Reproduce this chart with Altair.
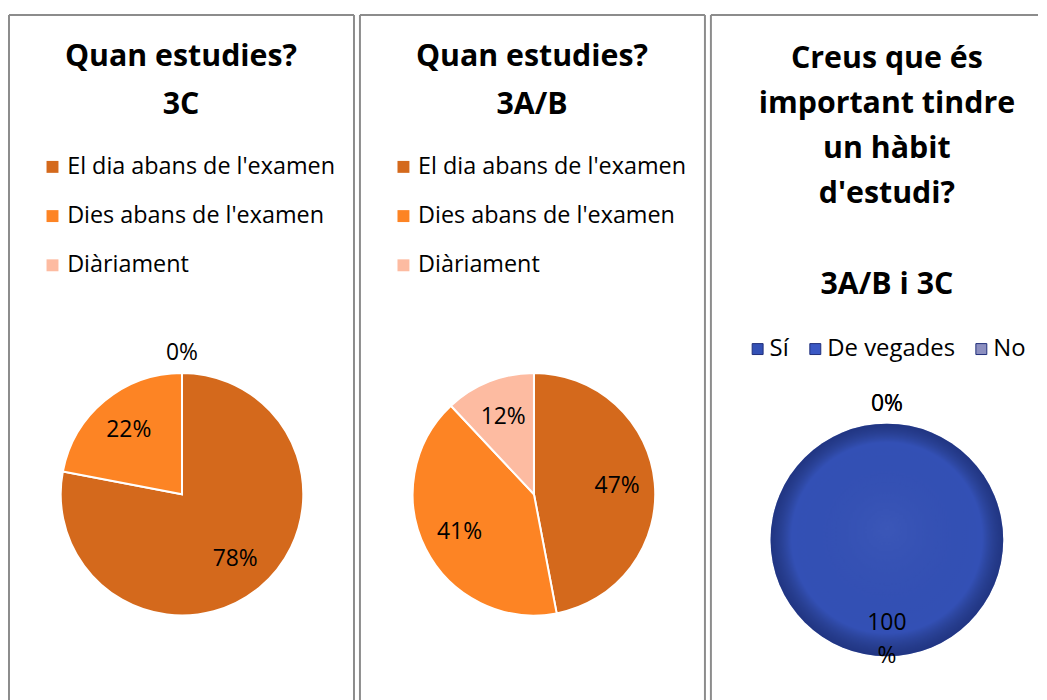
import altair as alt
import pandas as pd

# ---- data ----
cats_study = ["El dia abans de l'examen", "Dies abans de l'examen", "Diàriament"]
vals_3c = [78, 22, 0]
vals_3ab = [47, 41, 12]
colors_study = ["#D4691C", "#FD8424", "#FDBBA1"]

cats_habit = ["Sí", "De vegades", "No"]
vals_habit = [100, 0, 0]
colors_habit = ["#3350B5", "#3A58C4", "#8C8FC0"]

title_3c = ["Quan estudies?", "3C"]
title_3ab = ["Quan estudies?", "3A/B"]
title_habit = ["Creus que és", "important tindre", "un hàbit", "d'estudi?", "", "3A/B i 3C"]

H = 700
FONT = "Open Sans"
BORDER = "#8C8C8C"


def borders(w, right=True):
    one = pd.DataFrame({"k": [0]})
    left = alt.Chart(one).mark_rule(color=BORDER, strokeWidth=2).encode(
        x=alt.value(0), y=alt.value(0), y2=alt.value(H))
    top = alt.Chart(one).mark_rule(color=BORDER, strokeWidth=2).encode(
        x=alt.value(0), x2=alt.value(w), y=alt.value(0))
    out = [left, top]
    if right:
        out.append(alt.Chart(one).mark_rule(color=BORDER, strokeWidth=2).encode(
            x=alt.value(w), y=alt.value(0), y2=alt.value(H)))
    return out


def panel(w, cats, vals, colors, title_lines, title_x, title_y0, title_step,
          cx, cy, r, label_r, legend, arc_stroke, arc_stroke_w, gradient=False, right=True):
    df = pd.DataFrame({"cat": cats, "value": vals, "order": list(range(len(cats)))})
    base = alt.Chart(df)
    arcs = base.mark_arc(radius=r, stroke=arc_stroke, strokeWidth=arc_stroke_w).encode(
        theta=alt.Theta("value:Q", stack=True),
        color=alt.Color("cat:N", scale=alt.Scale(domain=cats, range=colors), legend=legend),
        order=alt.Order("order:Q"),
        x=alt.value(cx),
        y=alt.value(cy),
    )
    layers = borders(w, right) + [arcs]
    if gradient:
        shade = base.mark_arc(
            radius=r,
            strokeWidth=0,
            fill={
                "gradient": "radial",
                "x1": 0.5, "y1": 0.45, "r1": 0,
                "x2": 0.5, "y2": 0.5, "r2": 0.5,
                "stops": [
                    {"offset": 0, "color": "rgba(255,255,255,0.04)"},
                    {"offset": 0.82, "color": "rgba(0,0,0,0)"},
                    {"offset": 1, "color": "rgba(10,20,70,0.45)"},
                ],
            },
        ).encode(
            theta=alt.Theta("value:Q", stack=True),
            detail="cat:N",
            order=alt.Order("order:Q"),
            x=alt.value(cx),
            y=alt.value(cy),
        )
        layers.append(shade)
    labels = base.transform_calculate(
        lr=f"datum.value == 0 ? {r + 20} : {label_r}",
        label="datum.value == 100 ? '100|%' : datum.value + '%'",
    ).mark_text(font=FONT, fontSize=23, color="black", lineBreak="|", lineHeight=33).encode(
        theta=alt.Theta("value:Q", stack=True),
        radius=alt.Radius("lr:Q", scale=None),
        text="label:N",
        detail="cat:N",
        order=alt.Order("order:Q"),
        x=alt.value(cx),
        y=alt.value(cy),
    )
    layers.append(labels)

    tdf = pd.DataFrame({"line": title_lines, "i": list(range(len(title_lines)))})
    titles = alt.Chart(tdf).transform_calculate(
        ty=f"{title_y0} + datum.i * {title_step}"
    ).mark_text(font=FONT, fontSize=30.5, fontWeight="bold", color="black",
                baseline="alphabetic", align="center").encode(
        text="line:N",
        x=alt.value(title_x),
        y=alt.Y("ty:Q", scale=None, axis=None),
    )
    layers.append(titles)
    return alt.layer(*layers).properties(width=w, height=H)


legend_study = alt.Legend(
    orient="none", legendX=32, legendY=141, direction="vertical", title=None,
    symbolType="square", symbolSize=144, symbolStrokeWidth=0, symbolOpacity=1,
    labelFont=FONT, labelFontSize=23.5, labelColor="black", labelLimit=400,
    labelOffset=3, rowPadding=24.5, padding=0,
)
legend_habit = alt.Legend(
    orient="none", legendX=35, legendY=324, direction="horizontal", title=None,
    symbolType="square", symbolSize=121, symbolStrokeColor="#1F2E7A", symbolStrokeWidth=1,
    symbolOpacity=1, labelFont=FONT, labelFontSize=24, labelColor="black", labelLimit=400,
    labelOffset=0, columnPadding=14, padding=0,
)

p1 = panel(347, cats_study, vals_3c, colors_study, title_3c, 173, 51, 48.5,
           174, 482, 122, 84, legend_study, "white", 2)
p2 = panel(347, cats_study, vals_3ab, colors_study, title_3ab, 173, 51, 48.5,
           175, 482, 122, 84, legend_study, "white", 2)
p3 = panel(329, cats_habit, vals_habit, colors_habit, title_habit, 177, 53, 45.5,
           177, 528, 117, 84, legend_habit, "white", 0, gradient=True, right=False)

chart = alt.hconcat(p1, p2, p3, spacing=4).resolve_scale(
    color="independent"
).resolve_legend(color="independent").properties(
    padding={"left": 0, "top": 4, "right": 0, "bottom": 0}
).configure_view(stroke=None)

chart.save("out.html", embed_options={"renderer": "svg", "actions": False})
